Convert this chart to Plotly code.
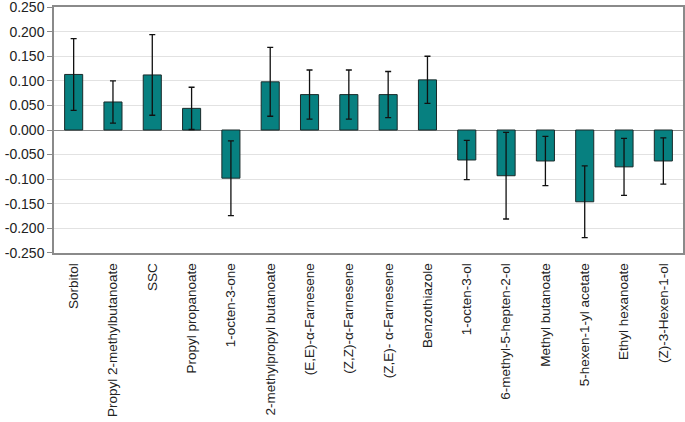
import plotly.graph_objects as go

categories = ["Sorbitol", "Propyl 2-methylbutanoate", "SSC", "Propyl propanoate",
              "1-octen-3-one", "2-methylpropyl butanoate", "(E,E)-α-Farnesene",
              "(Z,Z)-α-Farnesene", "(Z,E)- α-Farnesene", "Benzothiazole",
              "1-octen-3-ol", "6-methyl-5-hepten-2-ol", "Methyl butanoate",
              "5-hexen-1-yl acetate", "Ethyl hexanoate", "(Z)-3-Hexen-1-ol"]
values = [0.113, 0.057, 0.112, 0.044, -0.098, 0.098, 0.072, 0.072, 0.072, 0.102,
          -0.061, -0.093, -0.063, -0.146, -0.075, -0.063]
errors = [0.073, 0.043, 0.082, 0.043, 0.076, 0.070, 0.050, 0.050, 0.047, 0.048,
          0.040, 0.088, 0.050, 0.073, 0.058, 0.047]
tick_vals = [-0.25, -0.2, -0.15, -0.1, -0.05, 0.0, 0.05, 0.1, 0.15, 0.2, 0.25]
tick_text = ["-0.250", "-0.200", "-0.150", "-0.100", "-0.050", "0.000",
             "0.050", "0.100", "0.150", "0.200", "0.250"]

fig = go.Figure(go.Bar(
    x=categories, y=values,
    marker=dict(color="#078080", line=dict(color="#1a2a2a", width=1)),
    width=0.46,
    error_y=dict(type="data", array=errors, visible=True, color="#111111",
                 thickness=1.3, width=3),
))

fig.update_layout(
    width=685, height=422,
    margin=dict(l=54, r=2, t=7, b=169),
    paper_bgcolor="white", plot_bgcolor="white",
    font=dict(family="Liberation Sans, Arial", color="#222222"),
    showlegend=False,
)
fig.update_xaxes(
    tickangle=-90, tickfont=dict(size=13.5), showgrid=False,
    showline=True, linecolor="#8a8a8a", linewidth=1.5, mirror=True,
    ticks="outside", ticklen=3, tickcolor="rgba(0,0,0,0)",
    range=[-0.5, len(categories) - 0.5], automargin=False,
)
fig.update_yaxes(
    range=[-0.2502, 0.2502], tickvals=tick_vals, ticktext=tick_text,
    tickfont=dict(size=14), showgrid=True, gridcolor="#e2e2e2", gridwidth=1,
    showline=True, linecolor="#8a8a8a", linewidth=1.5, mirror=True,
    ticks="outside", ticklen=5, tickcolor="#8a8a8a", automargin=False,
    ticklabeloverflow="allow",
    zeroline=True, zerolinecolor="#8a8a8a", zerolinewidth=1.2,
)

fig.write_html(
    "out.html",
    config={"displayModeBar": False},
    post_script="document.body.style.margin='0px';document.body.style.overflow='hidden';",
)
